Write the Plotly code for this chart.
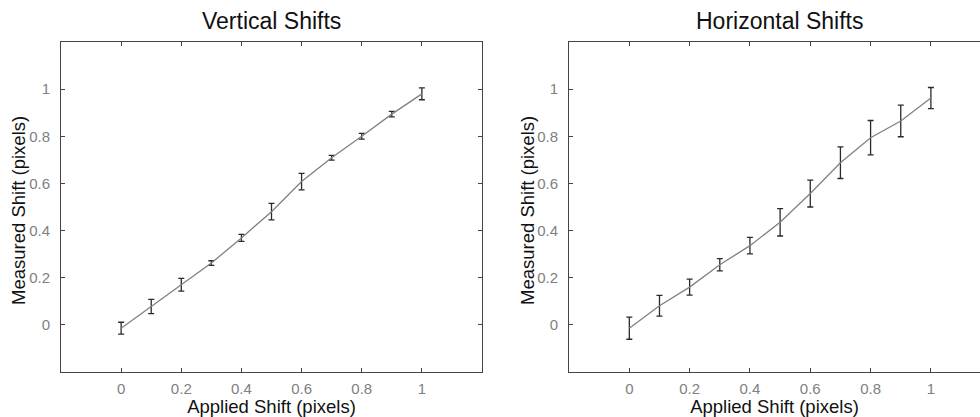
import plotly.graph_objects as go

applied = [0, 0.1, 0.2, 0.3, 0.4, 0.5, 0.6, 0.7, 0.8, 0.9, 1.0]
vert_mean = [-0.014, 0.078, 0.17, 0.262, 0.369, 0.48, 0.608, 0.709, 0.80, 0.894, 0.98]
vert_err = [0.025, 0.03, 0.027, 0.01, 0.015, 0.035, 0.035, 0.01, 0.012, 0.012, 0.025]
horz_mean = [-0.014, 0.081, 0.16, 0.255, 0.336, 0.435, 0.557, 0.688, 0.794, 0.865, 0.962]
horz_err = [0.047, 0.044, 0.034, 0.026, 0.035, 0.058, 0.057, 0.067, 0.073, 0.067, 0.045]
tick_vals = [0, 0.2, 0.4, 0.6, 0.8, 1]
tick_text = ["0", "0.2", "0.4", "0.6", "0.8", "1"]

FONT = "Arial, Liberation Sans, sans-serif"
line_col = "#808080"
err_col = "#2a2a2a"
axis_col = "#444444"

fig = go.Figure()
fig.add_trace(go.Scatter(
    x=applied, y=vert_mean, mode="lines",
    line=dict(color=line_col, width=1.3),
    error_y=dict(type="data", array=vert_err, color=err_col, thickness=1.3, width=3),
    xaxis="x", yaxis="y", showlegend=False))
fig.add_trace(go.Scatter(
    x=applied, y=horz_mean, mode="lines",
    line=dict(color=line_col, width=1.3),
    error_y=dict(type="data", array=horz_err, color=err_col, thickness=1.3, width=3),
    xaxis="x2", yaxis="y2", showlegend=False))

W, H = 980, 417
ydom = [1 - 372 / H, 1 - 42 / H]

common_axis = dict(
    showgrid=False, zeroline=False, showline=True, linecolor=axis_col, linewidth=1,
    ticks="inside", ticklen=4, tickcolor=axis_col, tickwidth=1,
    tickvals=tick_vals, ticktext=tick_text,
    tickfont=dict(family=FONT, size=15, color="#808080"),
)
title_font = dict(family=FONT, size=18.5, color="#111111")

fig.update_layout(
    width=W, height=H,
    margin=dict(l=0, r=0, t=0, b=0),
    paper_bgcolor="white", plot_bgcolor="white",
    font=dict(family=FONT),
    xaxis=dict(domain=[61 / W, 482 / W], range=[-0.2, 1.2], anchor="y", mirror="ticks",
               title=dict(text="Applied Shift (pixels)", font=title_font, standoff=2),
               ticklabelstandoff=3, **common_axis),
    yaxis=dict(domain=ydom, range=[-0.2, 1.2], anchor="x", mirror="ticks",
               ticklabelstandoff=7, **common_axis),
    xaxis2=dict(domain=[569 / W, 1.0], range=[-0.2, (980 - 630) / 301], anchor="y2", mirror="ticks",
                title=dict(text="Applied Shift (pixels)", font=title_font, standoff=2),
                ticklabelstandoff=3, **common_axis),
    yaxis2=dict(domain=ydom, range=[-0.2, 1.2], anchor="x2", mirror=False,
                ticklabelstandoff=7, **common_axis),
    annotations=[
        dict(text="Vertical Shifts", x=271 / W, y=1 - 21 / H, xref="paper", yref="paper",
             showarrow=False, font=dict(family=FONT, size=23, color="#111111"),
             xanchor="center", yanchor="middle"),
        dict(text="Horizontal Shifts", x=779 / W, y=1 - 21 / H, xref="paper", yref="paper",
             showarrow=False, font=dict(family=FONT, size=23, color="#111111"),
             xanchor="center", yanchor="middle"),
        dict(text="Measured Shift (pixels)", x=19 / W, y=1 - 211 / H, xref="paper", yref="paper",
             showarrow=False, textangle=-90, font=title_font,
             xanchor="center", yanchor="middle"),
        dict(text="Measured Shift (pixels)", x=528 / W, y=1 - 211 / H, xref="paper", yref="paper",
             showarrow=False, textangle=-90, font=title_font,
             xanchor="center", yanchor="middle"),
    ],
)

fig.write_html("out.html", config={"displayModeBar": False},
               post_script="document.body.style.margin='0';document.body.style.overflow='hidden';")
